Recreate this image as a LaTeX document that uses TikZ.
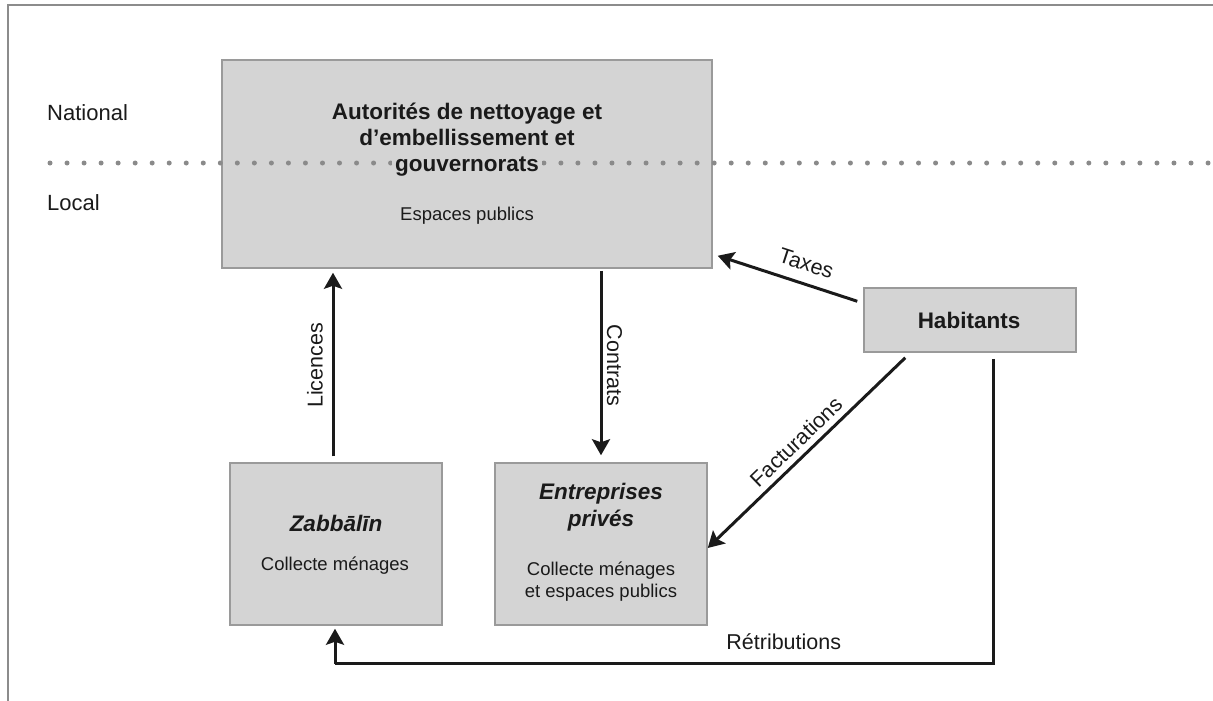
\documentclass[tikz,border=0pt]{standalone}
\usepackage{fontspec}
\setmainfont{Liberation Sans}
\usetikzlibrary{arrows.meta,calc}
\definecolor{boxgray}{HTML}{D4D4D4}
\definecolor{boxline}{HTML}{9A9A9A}
\definecolor{framegray}{HTML}{8C8C8C}
\definecolor{dotgray}{HTML}{8A8A8A}
\definecolor{ink}{HTML}{1A1A1A}
\begin{document}
\begin{tikzpicture}[x=1pt,y=-1pt,
  box/.style={draw=boxline,fill=boxgray,line width=1.5pt,inner sep=0pt},
  title/.style={font=\fontsize{22.5}{26}\selectfont\bfseries,text=ink,align=center,inner sep=0pt},
  sub/.style={font=\fontsize{18.5}{22}\selectfont,text=ink,align=center,inner sep=0pt},
  lab/.style={font=\fontsize{21.5}{24}\selectfont,text=ink,inner sep=0pt},
  conn/.style={line width=3pt,ink,-{Stealth[length=16pt,width=18pt,inset=3pt]}},
  plain/.style={line width=3pt,ink}
]
\useasboundingbox (0,0) rectangle (1213,701);
% frame
\draw[framegray,line width=1.5pt] (1213,5) -- (8,5) -- (8,701);
% level labels
\node[lab,anchor=west,font=\fontsize{22}{24}\selectfont] (nat) at (47,113) {National};
\node[lab,anchor=west,font=\fontsize{22}{24}\selectfont] (loc) at (47,203) {Local};
% boxes
\node[box,minimum width=490,minimum height=208] (main) at (467,164) {};
\node[box,minimum width=212,minimum height=64] (hab) at (970,320) {};
\node[box,minimum width=212,minimum height=162] (zab) at (336,544) {};
\node[box,minimum width=212,minimum height=162] (ent) at (601,544) {};
% dotted separator
\draw[dotgray,line width=5pt,line cap=round,dash pattern=on 0pt off 17.03pt] (50,163) -- (1210,163);
% texts
\node[title] (maint) at (467,141) {Autorités de nettoyage et\\d'embellissement et\\\setlength{\fboxsep}{3pt}\colorbox{boxgray}{gouvernorats}};
\node[sub] (mains) at (467,216) {Espaces publics};
\node[title] (habt) at (969,320) {Habitants};
\node[title,font=\fontsize{22.5}{26}\selectfont\bfseries\itshape] (zabt) at (336,523) {Zabbālīn};
\node[sub] (zabs) at (335,566) {Collecte ménages};
\node[title,font=\fontsize{22.5}{27}\selectfont\bfseries\itshape] (entt) at (601,507.5) {Entreprises\\privés};
\node[sub] (ents) at (601,582) {Collecte ménages\\et espaces publics};
% connectors
\draw[conn,shorten <=6pt,shorten >=4pt] ([xshift=-3pt]zab.north) -- ([xshift=-3pt]main.south -| zab.north)
  node[lab,midway,rotate=90,yshift=18pt] (licl) {Licences};
\draw[conn,shorten <=2pt,shorten >=7pt] (main.south -| ent.north) -- (ent.north)
  node[lab,midway,rotate=-90,yshift=13.5pt] (conl) {Contrats};
\draw[conn] ([shift={(-6,14)}]hab.north west) -- ([shift={(5,-13)}]main.south east)
  node[lab,pos=0.41,sloped,above=11pt] (taxl) {Taxes};
\draw[conn] ([shift={(42,5)}]hab.south west) -- ([shift={(0,4)}]ent.east)
  node[lab,midway,sloped,above=6pt] (facl) {Facturations};
\coordinate (rb) at ([shift={(-1,38)}]zab.south);
\draw[plain] ([shift={(23,6)}]hab.south) |- (rb)
  node[lab,pos=0.659,above=13pt] (retl) {Rétributions};
\draw[conn,shorten >=3pt] (rb) -- ([xshift=-1pt]zab.south);
\end{tikzpicture}
\end{document}
